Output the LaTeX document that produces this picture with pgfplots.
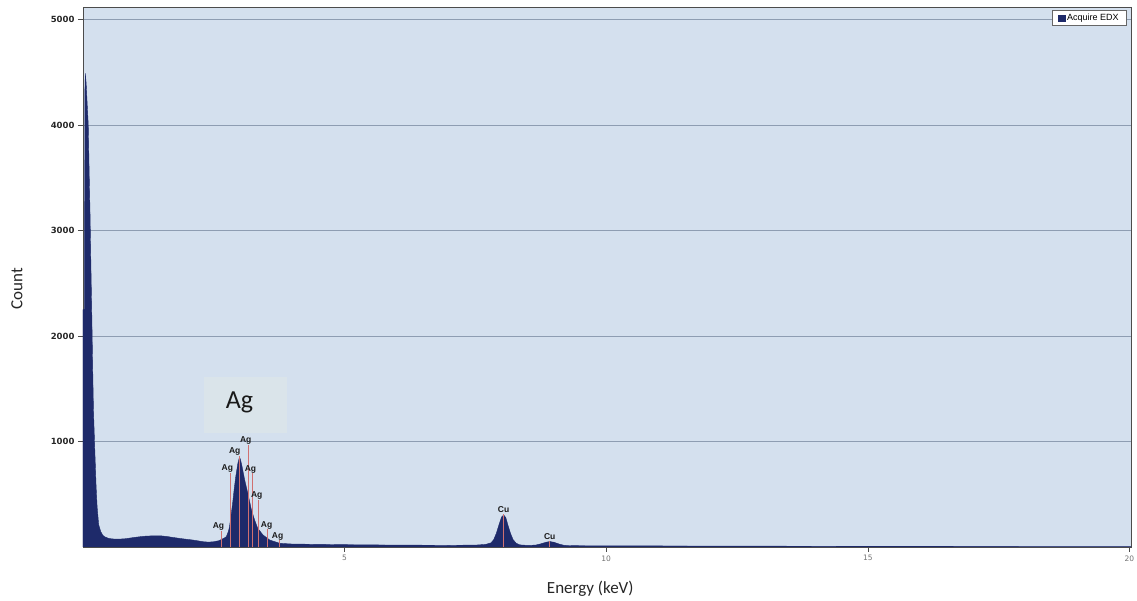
\documentclass[border=0pt]{standalone}
\usepackage{pgfplots}
\pgfplotsset{compat=1.18}
\usepackage{fontspec}
\setmainfont{Carlito}
\newfontfamily\tickfont{DejaVu Sans}
\newfontfamily\lblfont{Liberation Sans}
\definecolor{bgblue}{HTML}{D4E0EE}
\definecolor{navy}{HTML}{1E2A6A}
\definecolor{gridc}{HTML}{8E9DB2}
\definecolor{agbg}{HTML}{DAE4EA}
\definecolor{linered}{HTML}{D07070}
\pgfplotstableread{
E c
0.000 2250
0.030 2250
0.035 4300
0.045 4490
0.060 4400
0.080 4200
0.100 4010
0.120 3500
0.135 3150
0.150 2700
0.170 2150
0.185 1700
0.200 1300
0.220 1000
0.235 790
0.250 580
0.270 380
0.300 210
0.340 145
0.380 110
0.420 95
0.500 80
0.600 75
0.700 75
0.800 78
0.900 85
1.000 92
1.100 98
1.200 103
1.300 105
1.400 106
1.500 105
1.600 100
1.700 92
1.800 85
1.900 78
2.000 72
2.100 66
2.200 58
2.300 50
2.400 46
2.500 50
2.600 60
2.650 72
2.700 85
2.740 98
2.780 150
2.800 193
2.830 300
2.860 415
2.890 550
2.920 668
2.960 794
2.990 851
3.010 830
3.040 763
3.090 636
3.150 510
3.220 351
3.280 256
3.340 177
3.440 114
3.570 66
3.760 35
4.000 28
4.500 25
5.000 22
5.500 20
6.000 18
6.500 17
7.000 16
7.500 18
7.700 25
7.800 40
7.850 70
7.900 130
7.950 210
8.000 285
8.040 303
8.080 280
8.120 210
8.170 130
8.220 70
8.280 35
8.350 20
8.500 15
8.650 18
8.750 30
8.850 45
8.920 52
9.000 45
9.100 28
9.200 15
9.500 12
10.000 11
11.000 10
12.000 9
13.000 8
14.000 7
15.000 6
17.000 5
20.030 4
}\spectrum
\begin{document}
\begin{tikzpicture}[x=1pt,y=1pt]
\useasboundingbox (-83,-54) rectangle (1054,547);
\begin{axis}[
 scale only axis, width=1048pt, height=540pt,
 xmin=0, xmax=20.03, ymin=0, ymax=5120,
 axis background/.style={fill=bgblue},
 xtick={5,10,15,20}, ytick={1000,2000,3000,4000,5000},
 tick pos=left,
 ymajorgrids, grid style={gridc, line width=0.7pt},
 tick align=outside, major tick length=5pt,
 tick style={black!70, line width=0.6pt},
 yticklabel style={font=\tickfont\bfseries\fontsize{8.5}{10}\selectfont, text=black!85},
 xticklabel style={font=\tickfont\fontsize{7.5}{8}\selectfont, text=black!55},
 scaled y ticks=false,
 /pgf/number format/assume math mode=true,
 /pgf/number format/1000 sep={},
 axis line style={black!70, line width=0.8pt},
 xlabel={Energy (keV)}, ylabel={Count},
 label style={font=\fontsize{17}{20}\selectfont, text=black!85},
 xlabel style={at={(axis description cs:0.484,-0.078)}, anchor=center},
 ylabel style={at={(axis description cs:-0.063,0.478)}, anchor=center},
 legend style={at={(axis description cs:0.996,0.994)}, anchor=north east,
   font=\lblfont\fontsize{9}{10}\selectfont, draw=black!60, fill=white,
   inner xsep=6pt, inner ysep=1.5pt, row sep=0pt},
 legend cell align=left,
 clip=true,
]
\fill[agbg] (axis cs:2.32,1081) rectangle (axis cs:3.89,1611);
\addplot[fill=navy, draw=navy, line width=0.4pt,
  legend image code/.code={\fill[navy] (0pt,-3.2pt) rectangle (6.5pt,3.2pt);}]
  table[x=E, y=c] {\spectrum} \closedcycle;
\addlegendentry{Acquire EDX}
\addplot[color=linered, line width=0.5pt, ycomb, mark=none, forget plot] coordinates {
(2.634,150) (2.806,700) (2.984,860) (3.151,970) (3.234,700) (3.348,450) (3.520,170) (3.743,70)
(8.040,310) (8.905,60)};
\begin{scope}[every node/.style={font=\lblfont\bfseries\fontsize{8.5}{9}\selectfont, inner sep=0pt, text=black!90}]
\node at (axis cs:2.59,190) {Ag};
\node at (axis cs:2.76,749) {Ag};
\node at (axis cs:2.90,910) {Ag};
\node at (axis cs:3.11,1014) {Ag};
\node at (axis cs:3.20,739) {Ag};
\node at (axis cs:3.32,493) {Ag};
\node at (axis cs:3.51,208) {Ag};
\node at (axis cs:3.72,104) {Ag};
\node at (axis cs:8.04,351) {Cu};
\node at (axis cs:8.92,95) {Cu};
\end{scope}
\node[font=\fontsize{26}{28}\selectfont, text=black!90] at (axis cs:2.99,1374) {Ag};
\end{axis}
\end{tikzpicture}
\end{document}
